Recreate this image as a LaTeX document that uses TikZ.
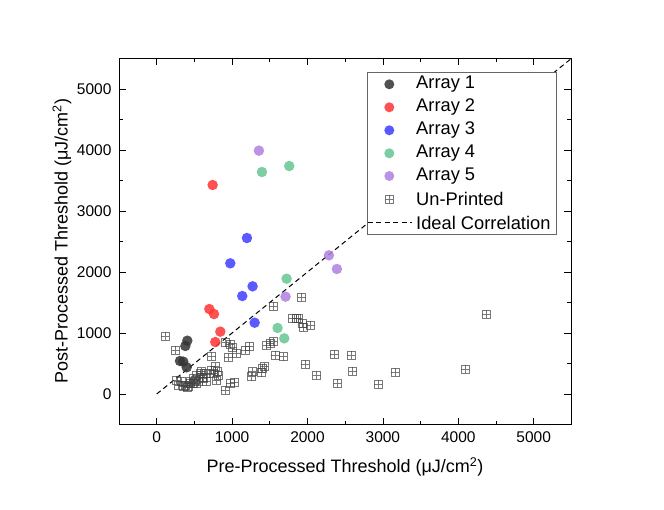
\documentclass[tikz,border=0pt]{standalone}
\usepackage{fontspec}
\setmainfont{Liberation Sans}
\begin{document}
\begin{tikzpicture}[x=1pt,y=1pt,
  dot/.style={circle,fill=#1,minimum size=10.5pt,inner sep=0,fill opacity=0.85,draw=none},
  usq/.style={draw=black!75,draw opacity=0.7,line width=0.5pt,minimum size=8pt,inner sep=0,
    path picture={\draw[black!75,line width=0.5pt] (path picture bounding box.north)--(path picture bounding box.south)
      (path picture bounding box.west)--(path picture bounding box.east);}},
  tick/.style={line width=0.6pt},
  lbl/.style={font=\fontsize{15.5}{15.5}\selectfont},
  ideal/.style={line width=1pt,dash pattern=on 5pt off 3.5pt}]
\definecolor{c1}{HTML}{333333}
\definecolor{c2}{HTML}{FF3333}
\definecolor{c3}{HTML}{3D3DFF}
\definecolor{c4}{HTML}{66C593}
\definecolor{c5}{HTML}{B07FE0}
\useasboundingbox (0,0) rectangle (664,509);
\begin{scope}[shift={(156.7,115)},x=0.0754pt,y=0.0610pt]
  \clip (-500,-500) rectangle (5500,5500);
  \draw[ideal] (0,0) -- (5500,5500);
\end{scope}
\begin{scope}[shift={(156.7,115)},x=0.0754pt,y=0.0610pt]
  \foreach \a/\b [count=\i] in {110/951,252/721,1921/1585,1541/1443,1798/1235,1855/1246,1880/1240,1935/1158,1939/1093,2041/1126,4373/1311,1546/858,1506/831,1458/803,1568/639,1678/612,1970/492,2120/306,2354/650,2580/634,2597/377,2398/175,2937/164,3163/355,4095/410,729/623,945/601,914/841,971/820,1007/765,1060/667,1170/721,1223/787,1422/448,1396/421,1383/350,1259/284,1267/366,1025/191,971/175,905/66,773/448,804/366,795/229,654/202,265/230,291/148,353/120,420/131,450/202,508/229,530/311,574/339,618/257,662/339,729/393,442/175,486/175,552/202,406/109,597/366,530/175,331/202,751/339,817/311,600/280,480/260,380/150}
    \node[usq] (u\i) at (\a,\b) {};
  \foreach \a/\b [count=\i] in {406/874,380/787,309/541,353/530,398/437}
    \node[dot=c1] (a\i) at (\a,\b) {};
  \foreach \a/\b [count=\i] in {742/3426,698/1393,760/1311,844/1022,777/852}
    \node[dot=c2] (b\i) at (\a,\b) {};
  \foreach \a/\b [count=\i] in {1197/2557,976/2142,1272/1765,1135/1606,1299/1169}
    \node[dot=c3] (c\i) at (\a,\b) {};
  \foreach \a/\b [count=\i] in {1396/3639,1758/3737,1723/1890,1603/1082,1692/912}
    \node[dot=c4] (d\i) at (\a,\b) {};
  \foreach \a/\b [count=\i] in {1356/3989,2284/2273,2390/2049,1709/1596}
    \node[dot=c5] (e\i) at (\a,\b) {};
  \draw[line width=0.9pt] (-500,-500) rectangle (5500,5500);
  \foreach \t in {0,1000,...,5000} {
    \draw[tick] (\t,-500) -- ++(0,7pt) (\t,5500) -- ++(0,-7pt);
    \draw[tick] (-500,\t) -- ++(7pt,0) (5500,\t) -- ++(-7pt,0);
    \node[lbl,anchor=north] (xt\t) at (\t,-500) [yshift=-4pt] {\t};
    \node[lbl,anchor=east] (yt\t) at (-500,\t) [xshift=-4pt] {\t};
  }
  \foreach \t in {500,1500,...,5000} {
    \draw[tick] (\t,-500) -- ++(0,4pt) (\t,5500) -- ++(0,-4pt);
    \draw[tick] (-500,\t) -- ++(4pt,0) (5500,\t) -- ++(-4pt,0);
  }
\end{scope}
\node[draw=black!60,line width=0.7pt,fill=white,minimum width=189pt,minimum height=162.3pt,anchor=north west,inner sep=0] (leg) at (366.7,437.3) {};
\foreach \c/\t/\yy [count=\i] in {c1/Array 1/84.3,c2/Array 2/107.3,c3/Array 3/130.3,c4/Array 4/153.3,c5/Array 5/176} {
  \node[dot=\c,minimum size=10pt] (lm\i) at (389.3,509-\yy) {};
  \node[anchor=west,font=\fontsize{18.3}{18.3}\selectfont,inner sep=0] (lt\i) at (416,509-\yy) {\t};
}
\node[usq] (lm6) at (389.3,509-199.3) {};
\node[anchor=west,font=\fontsize{18.3}{18.3}\selectfont,inner sep=0] (lt6) at (416,509-199.3) {Un-Printed};
\coordinate (ld1) at (367.5,509-222.7);
\coordinate (ld2) at (411.7,509-222.7);
\draw[ideal] (ld1) -- (ld2);
\node[anchor=west,font=\fontsize{18.3}{18.3}\selectfont,inner sep=0] (lt7) at (416,509-222.7) {Ideal Correlation};
\node[font=\fontsize{18}{18}\selectfont] (xlab) at (345,509-467) {Pre-Processed Threshold (μJ/cm\textsuperscript{2})};
\node[font=\fontsize{18}{18}\selectfont,rotate=90] (ylab) at (62,509-241) {Post-Processed Threshold (μJ/cm\textsuperscript{2})};
\end{tikzpicture}
\end{document}
